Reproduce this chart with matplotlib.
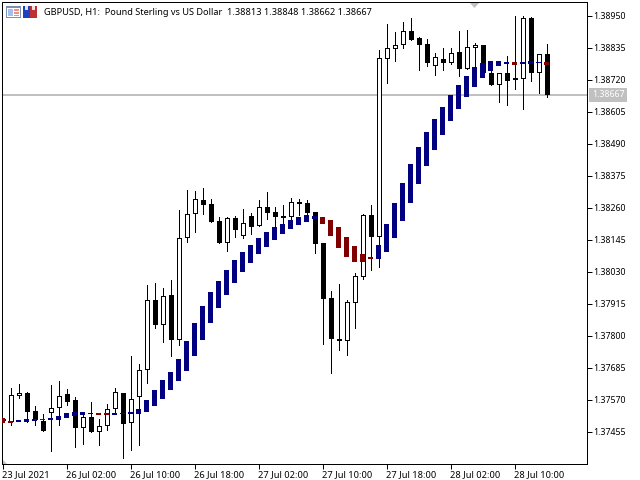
import matplotlib
matplotlib.use('Agg')
import matplotlib.pyplot as plt
from matplotlib.patches import Rectangle, Polygon
from matplotlib.transforms import Affine2D

# H1 bars, first one sits on the left border
bar_open = [1.37498, 1.37491, 1.37584, 1.37595, 1.37530, 1.37494, 1.37523, 1.37541, 1.37592, 1.37570,
            1.37469, 1.37509, 1.37455, 1.37476, 1.37538, 1.37595, 1.37487, 1.37581, 1.37678, 1.37929,
            1.37840, 1.37947, 1.37786, 1.38152, 1.38239, 1.38289, 1.38274, 1.38214, 1.38134, 1.38224,
            1.38159, 1.38231, 1.38195, 1.38264, 1.38246, 1.38231, 1.38228, 1.38282, 1.38278, 1.38246,
            1.38134, 1.37937, 1.37789, 1.37782, 1.37919, 1.38012, 1.38235, 1.38156, 1.38795, 1.38831,
            1.38846, 1.38896, 1.38871, 1.38849, 1.38770, 1.38795, 1.38781, 1.38821, 1.38760, 1.38835,
            1.38846, 1.38745, 1.38702, 1.38745, 1.38727, 1.38724, 1.38943, 1.38745, 1.38813]
bar_high = [1.37498, 1.37613, 1.37627, 1.37599, 1.37548, 1.37520, 1.37624, 1.37638, 1.37609, 1.37581,
            1.37527, 1.37563, 1.37502, 1.37556, 1.37613, 1.37595, 1.37728, 1.37699, 1.37983, 1.37990,
            1.37973, 1.38001, 1.38253, 1.38325, 1.38321, 1.38332, 1.38292, 1.38228, 1.38228, 1.38231,
            1.38256, 1.38242, 1.38289, 1.38318, 1.38264, 1.38271, 1.38296, 1.38292, 1.38289, 1.38246,
            1.38134, 1.37962, 1.37987, 1.37929, 1.38027, 1.38239, 1.38271, 1.38828, 1.38921, 1.38892,
            1.38928, 1.38943, 1.38875, 1.38867, 1.38817, 1.38835, 1.38835, 1.38896, 1.38900, 1.38853,
            1.38846, 1.38752, 1.38745, 1.38806, 1.38950, 1.38950, 1.38946, 1.38813, 1.38849]
bar_low = [1.37498, 1.37480, 1.37577, 1.37491, 1.37480, 1.37458, 1.37387, 1.37480, 1.37552, 1.37401,
           1.37412, 1.37455, 1.37408, 1.37462, 1.37523, 1.37362, 1.37390, 1.37408, 1.37631, 1.37829,
           1.37778, 1.37728, 1.37768, 1.38138, 1.38174, 1.38239, 1.38210, 1.38134, 1.38106, 1.38156,
           1.38152, 1.38167, 1.38195, 1.38221, 1.38192, 1.38203, 1.38217, 1.38235, 1.38235, 1.38098,
           1.37771, 1.37667, 1.37750, 1.37732, 1.37829, 1.38005, 1.38037, 1.38048, 1.38709, 1.38788,
           1.38835, 1.38864, 1.38756, 1.38770, 1.38738, 1.38756, 1.38777, 1.38734, 1.38760, 1.38767,
           1.38745, 1.38702, 1.38641, 1.38630, 1.38688, 1.38616, 1.38716, 1.38673, 1.38659]
bar_close = [1.37498, 1.37588, 1.37595, 1.37527, 1.37498, 1.37458, 1.37541, 1.37584, 1.37563, 1.37469,
             1.37509, 1.37455, 1.37476, 1.37538, 1.37599, 1.37484, 1.37574, 1.37678, 1.37929, 1.37840,
             1.37944, 1.37786, 1.38152, 1.38239, 1.38292, 1.38271, 1.38210, 1.38134, 1.38224, 1.38181,
             1.38206, 1.38192, 1.38264, 1.38242, 1.38228, 1.38224, 1.38282, 1.38274, 1.38242, 1.38131,
             1.37933, 1.37789, 1.37782, 1.37922, 1.38016, 1.38235, 1.38156, 1.38799, 1.38835, 1.38846,
             1.38896, 1.38864, 1.38846, 1.38781, 1.38803, 1.38781, 1.38817, 1.38760, 1.38839, 1.38846,
             1.38745, 1.38702, 1.38745, 1.38716, 1.38720, 1.38943, 1.38745, 1.38813, 1.38667]

# smoothed candles drawn over the bars
ha_open = [1.37505, 1.37494, 1.37491, 1.37491, 1.37494, 1.37502, 1.37498, 1.37498, 1.37505, 1.37513,
           1.37516, 1.37520, 1.37523, 1.37523, 1.37516, 1.37520, 1.37520, 1.37520, 1.37527, 1.37548,
           1.37574, 1.37606, 1.37638, 1.37674, 1.37728, 1.37786, 1.37847, 1.37901, 1.37947, 1.37990,
           1.38030, 1.38062, 1.38095, 1.38120, 1.38145, 1.38167, 1.38185, 1.38199, 1.38210, 1.38221,
           1.38228, 1.38217, 1.38192, 1.38156, 1.38123, 1.38095, 1.38084, 1.38077, 1.38102, 1.38152,
           1.38214, 1.38278, 1.38346, 1.38411, 1.38468, 1.38522, 1.38573, 1.38616, 1.38659, 1.38695,
           1.38727, 1.38752, 1.38770, 1.38777, 1.38785, 1.38777, 1.38777, 1.38781, 1.38785]
ha_close = [1.37487, 1.37487, 1.37498, 1.37502, 1.37502, 1.37498, 1.37505, 1.37513, 1.37523, 1.37527,
            1.37527, 1.37523, 1.37516, 1.37516, 1.37523, 1.37523, 1.37527, 1.37538, 1.37570, 1.37606,
            1.37642, 1.37671, 1.37717, 1.37782, 1.37847, 1.37908, 1.37958, 1.37998, 1.38037, 1.38073,
            1.38102, 1.38127, 1.38152, 1.38174, 1.38192, 1.38203, 1.38217, 1.38228, 1.38235, 1.38231,
            1.38203, 1.38159, 1.38116, 1.38084, 1.38066, 1.38066, 1.38077, 1.38127, 1.38203, 1.38278,
            1.38350, 1.38418, 1.38479, 1.38533, 1.38580, 1.38623, 1.38666, 1.38702, 1.38734, 1.38767,
            1.38781, 1.38788, 1.38788, 1.38785, 1.38774, 1.38785, 1.38788, 1.38785, 1.38774]

price_ticks = [1.38950, 1.38835, 1.38720, 1.38605, 1.38490, 1.38375, 1.38260,
               1.38145, 1.38030, 1.37915, 1.37800, 1.37685, 1.37570, 1.37455]
time_ticks = [0, 8, 16, 24, 32, 40, 48, 56, 64]
time_labels = ['23 Jul 2021', '26 Jul 02:00', '26 Jul 10:00', '26 Jul 18:00', '27 Jul 02:00',
               '27 Jul 10:00', '27 Jul 18:00', '28 Jul 02:00', '28 Jul 10:00']
last_price = 1.38667
header = 'GBPUSD, H1:  Pound Sterling vs US Dollar  1.38813 1.38848 1.38662 1.38667'

plt.rcParams['font.family'] = 'Noto Sans'

fig = plt.figure(figsize=(6.4, 4.8), dpi=100)
ax = fig.add_axes([2 / 640, 1 - 464 / 480, 585 / 640, 462 / 480])
ax.set_xlim(-0.0625, 73.0625)
ax.set_ylim(1.37340, 1.39000)

ax.axhline(last_price, color='#c0c0c0', lw=1.44, zorder=1, antialiased=False)

# outline adds a pixel at the bottom of each body, take it back
body_pad = 0.000036

# candles: wick, then body
for i in range(len(bar_open)):
    ax.vlines(i, bar_low[i], bar_high[i], color='black', lw=0.72, zorder=2, antialiased=False)
    up = bar_close[i] >= bar_open[i]
    ax.bar(i, abs(bar_close[i] - bar_open[i]) - body_pad, bottom=min(bar_open[i], bar_close[i]) + body_pad, width=0.5,
           facecolor='white' if up else 'black', edgecolor='black', lw=0.72, zorder=3, antialiased=False)

for i in range(len(ha_open)):
    col = '#000080' if ha_close[i] >= ha_open[i] else '#800000'
    ax.bar(i, abs(ha_close[i] - ha_open[i]), bottom=min(ha_open[i], ha_close[i]), width=0.625,
           color=col, lw=0, zorder=4, antialiased=False)

ax.yaxis.tick_right()
ax.set_yticks(price_ticks)
ax.set_yticklabels(['%.5f' % p for p in price_ticks])
ax.set_xticks(time_ticks)
ax.set_xticklabels(time_labels, ha='left')
ax.tick_params(axis='y', length=3.6, width=0.72, pad=0.8, labelsize=6.3)
ax.tick_params(axis='x', length=3.6, width=0.72, pad=0.5, labelsize=6.7)
for s in ax.spines.values():
    s.set_linewidth(0.72)

# last price label
ax.annotate('%.5f' % last_price, xy=(1, last_price), xycoords=('axes fraction', 'data'),
            xytext=(3.6, 0), textcoords='offset points', va='center', ha='left', fontsize=6.3, color='white',
            bbox=dict(boxstyle='square,pad=0.3', fc='#c0c0c0', ec='none'), annotation_clip=False)

# everything below is placed in screen pixels, top left origin
px = Affine2D().scale(1 / 640, -1 / 480).translate(0, 1) + fig.transFigure

def box(x, y, w, h, col):
    fig.add_artist(Rectangle((x, y), w, h, transform=px, fc=col, ec='none', antialiased=False))

box(6, 6, 15, 12, '#7f8fb0')
box(7, 8, 13, 9, '#ffffff')
box(8, 9, 5, 7, '#a0c0f0')
box(14, 9, 5, 2, '#f09080')
box(14, 12, 5, 2, '#f09080')
box(14, 15, 5, 1, '#f09080')
box(23, 6, 7, 12, '#2040c0')
box(30, 6, 7, 12, '#c03030')
box(25, 6, 3, 4, '#e0e0f0')
box(32, 6, 3, 4, '#f0e0e0')
fig.add_artist(Polygon([(3, 460), (3, 464), (7, 464)], transform=px, fc='#c0c0c0', ec='none'))
fig.add_artist(Polygon([(470, 3), (479, 3), (474.5, 8)], transform=px, fc='#c0c0c0', ec='none'))

fig.text(44 / 640, 1 - 12.5 / 480, header, fontsize=6.6, va='center', ha='left', color='black')

fig.savefig('out.png', dpi=100)
